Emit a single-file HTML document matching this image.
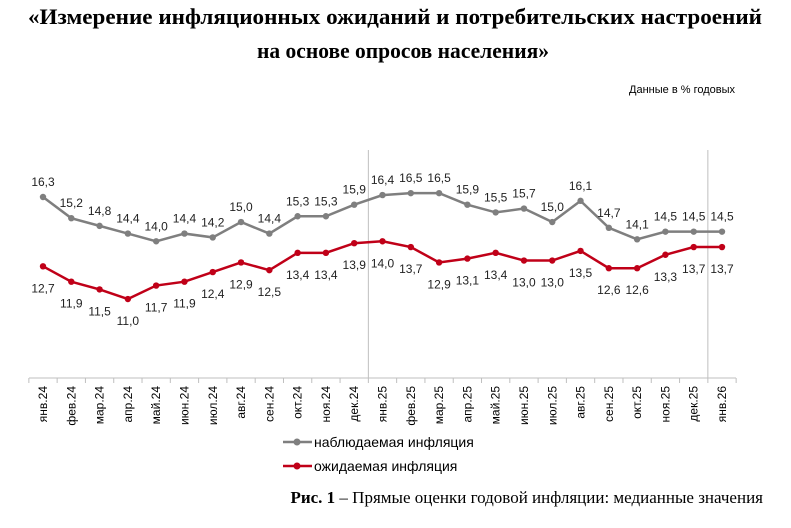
<!DOCTYPE html>
<html><head><meta charset="utf-8"><style>
body{margin:0;background:#fff;width:791px;height:523px;overflow:hidden;font-family:"Liberation Sans",sans-serif}
svg text{font-family:"Liberation Sans",sans-serif}
</style></head><body>
<svg width="791" height="523">
<text x="395" y="24" text-anchor="middle" textLength="734" lengthAdjust="spacingAndGlyphs" font-weight="bold" font-size="22" style="font-family:'Liberation Serif',serif">«Измерение инфляционных ожиданий и потребительских настроений</text>
<text x="403" y="58" text-anchor="middle" textLength="292" lengthAdjust="spacingAndGlyphs" font-weight="bold" font-size="22" style="font-family:'Liberation Serif',serif">на основе опросов населения»</text>
<text x="735" y="93" text-anchor="end" font-size="11">Данные в % годовых</text>
<g id="plot"></g>
<g>
<line x1="283" y1="442" x2="312" y2="442" stroke="#7f7f7f" stroke-width="2.5"/><circle cx="297" cy="442" r="3.5" fill="#7f7f7f"/>
<text x="314" y="447" font-size="14">наблюдаемая инфляция</text>
<line x1="283" y1="466" x2="312" y2="466" stroke="#c00018" stroke-width="2.5"/><circle cx="297" cy="466" r="3.5" fill="#c00018"/>
<text x="314" y="471" font-size="14">ожидаемая инфляция</text>
</g>
<text x="763" y="503" text-anchor="end" font-size="17" style="font-family:'Liberation Serif',serif"><tspan font-weight="bold">Рис. 1</tspan> – Прямые оценки годовой инфляции: медианные значения</text>
</svg>
<script>
const categories=["янв.24","фев.24","мар.24","апр.24","май.24","июн.24","июл.24","авг.24","сен.24","окт.24","ноя.24","дек.24","янв.25","фев.25","мар.25","апр.25","май.25","июн.25","июл.25","авг.25","сен.25","окт.25","ноя.25","дек.25","янв.26"];
const observed=[16.3,15.2,14.8,14.4,14.0,14.4,14.2,15.0,14.4,15.3,15.3,15.9,16.4,16.5,16.5,15.9,15.5,15.7,15.0,16.1,14.7,14.1,14.5,14.5,14.5];
const expected=[12.7,11.9,11.5,11.0,11.7,11.9,12.4,12.9,12.5,13.4,13.4,13.9,14.0,13.7,12.9,13.1,13.4,13.0,13.0,13.5,12.6,12.6,13.3,13.7,13.7];
const NS="http://www.w3.org/2000/svg";
const g=document.getElementById('plot');
const x0=43,step=(722-43)/24;
const xS=i=>x0+i*step;
const yS=v=>197+(16.3-v)*19.25;
function mk(t,a,p){const e=document.createElementNS(NS,t);for(const k in a)e.setAttribute(k,a[k]);(p||g).appendChild(e);return e;}
const axis=mk('line',{x1:29,y1:378,x2:736,y2:378,stroke:'#bfbfbf'});


for(let i=0;i<=25;i++){mk('line',{x1:x0-step/2+i*step,y1:378,x2:x0-step/2+i*step,y2:383,stroke:'#bfbfbf'});}
[11.5,23.5].forEach(k=>{const s=mk('line',{x1:xS(k),y1:150,x2:xS(k),y2:378,stroke:'#bfbfbf'});

});
categories.forEach((c,i)=>{const t=mk('text',{x:0,y:0,'font-size':12,'text-anchor':'end',transform:`translate(${xS(i)+4},386) rotate(-90)`});t.textContent=c;

});
function series(arr,col,name,dy){
 const p=mk('polyline',{points:arr.map((v,i)=>xS(i)+','+yS(v)).join(' '),fill:'none',stroke:col,'stroke-width':2.5});
 
 
 arr.forEach((v,i)=>{const c=mk('circle',{cx:xS(i),cy:yS(v),r:3.2,fill:col});
 
 
 const t=mk('text',{x:xS(i),y:yS(v)+dy,'font-size':12,'text-anchor':'middle',fill:'#222'});t.textContent=v.toFixed(1).replace('.',',');
 
 });
}
series(observed,'#7f7f7f','observed',-11);
series(expected,'#c00018','expected',26);
</script>
</body></html>
